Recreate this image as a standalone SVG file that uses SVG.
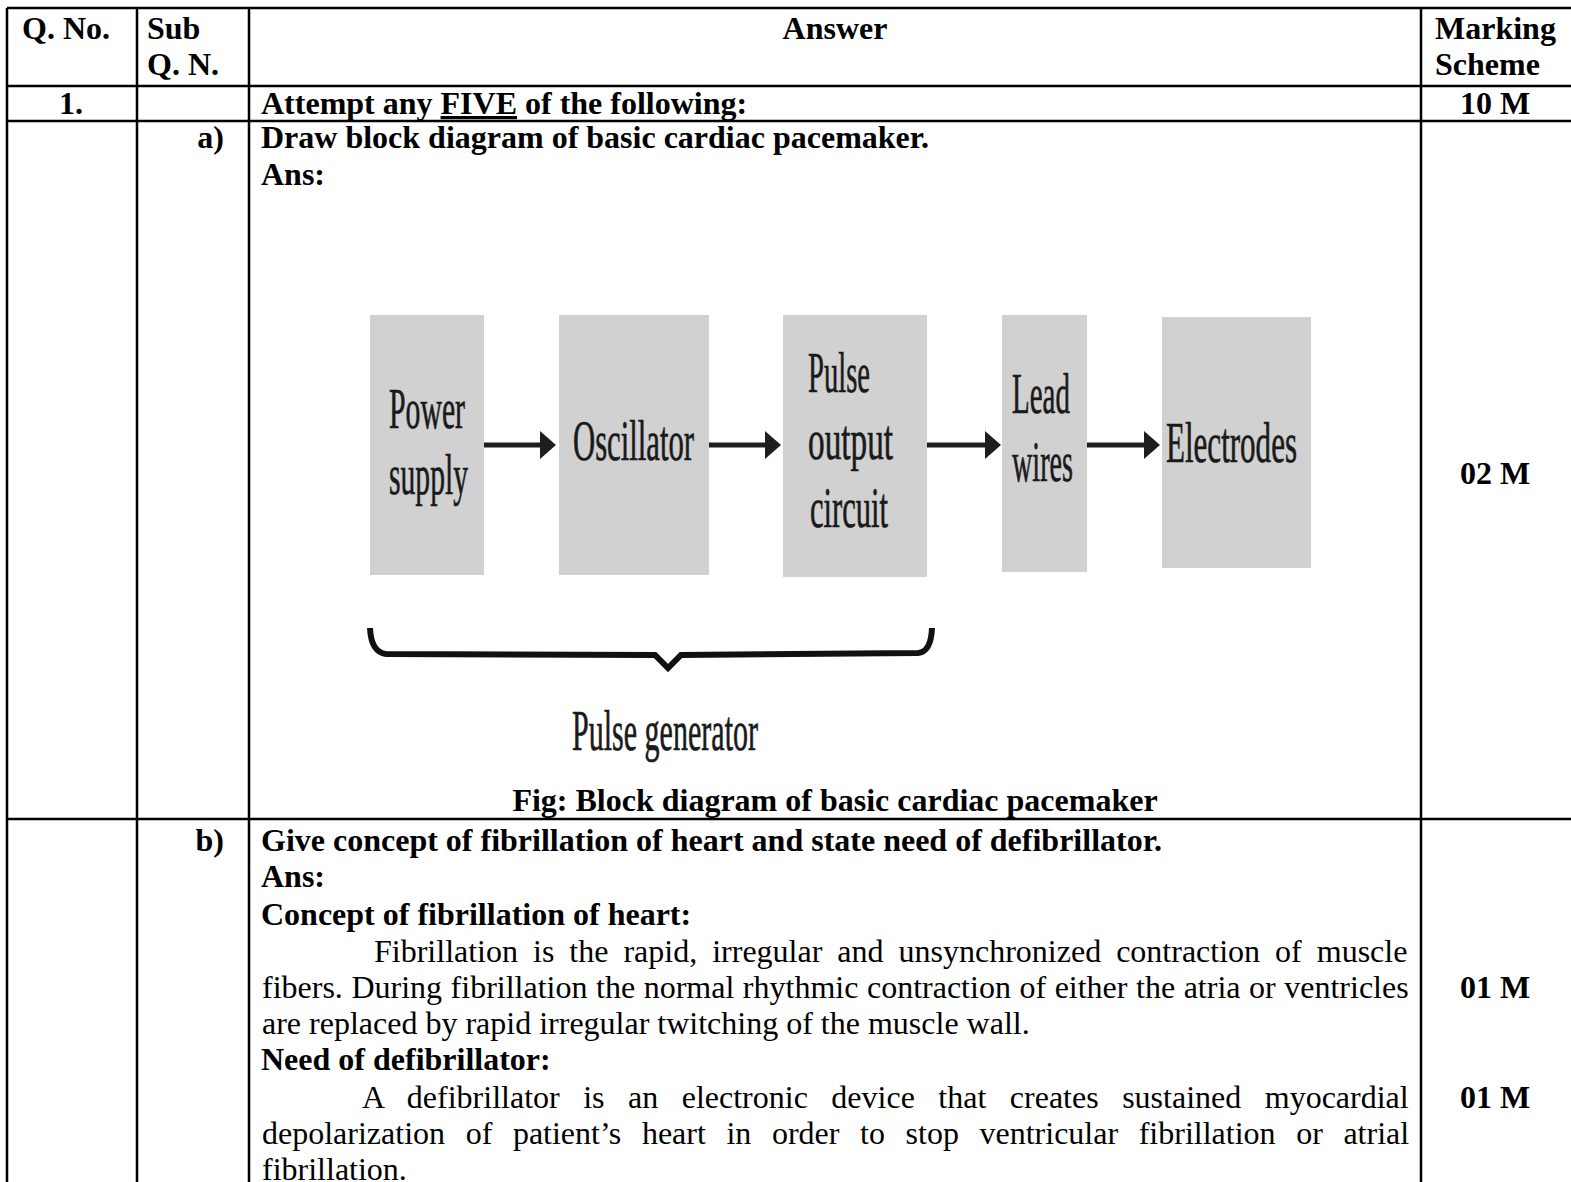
<svg xmlns="http://www.w3.org/2000/svg" width="1571" height="1182" viewBox="0 0 1571 1182">
<style>
.t{font-family:"Liberation Serif","Times New Roman",serif;font-size:32px;fill:#000}
.b{font-weight:bold}
.m{text-anchor:middle}
.e{text-anchor:end}
.grid line{stroke:#000;stroke-width:2.5}
.box{fill:#d1d1d1}
.bl{font-family:"Liberation Serif","Times New Roman",serif;font-size:58px;fill:#1a1a1a;stroke:#1a1a1a;stroke-width:0.7}
.arr{stroke:#1e1e1e;stroke-width:5;fill:none;marker-end:url(#ah)}
</style>
<defs>
<marker id="ah" markerWidth="16" markerHeight="28" refX="4" refY="14" orient="auto" markerUnits="userSpaceOnUse">
<path d="M0,0 L16,14 L0,28 Z" fill="#1e1e1e"/>
</marker>
</defs>
<rect width="1571" height="1182" fill="#fff"/>
<g id="table" class="grid">
<line x1="7" y1="8" x2="1571" y2="8"/>
<line x1="7" y1="86" x2="1571" y2="86"/>
<line x1="7" y1="121" x2="1571" y2="121"/>
<line x1="7" y1="819" x2="1571" y2="819"/>
<line x1="7" y1="8" x2="7" y2="1182"/>
<line x1="137" y1="8" x2="137" y2="1182"/>
<line x1="249" y1="8" x2="249" y2="1182"/>
<line x1="1421" y1="8" x2="1421" y2="1182"/>
</g>
<g id="header">
<text class="t b" x="22" y="39">Q. No.</text>
<text class="t b" x="147" y="39">Sub</text>
<text class="t b" x="147" y="75">Q. N.</text>
<text class="t b m" x="835" y="39">Answer</text>
<text class="t b" x="1435" y="39">Marking</text>
<text class="t b" x="1435" y="75">Scheme</text>
</g>
<g id="row1">
<text class="t b m" x="71" y="114">1.</text>
<text class="t b" x="261" y="114">Attempt any <tspan text-decoration="underline">FIVE</tspan> of the following:</text>
<text class="t b m" x="1495" y="114">10 M</text>
</g>
<g id="row-a">
<text class="t b e" x="224" y="148">a)</text>
<text class="t b" x="261" y="148">Draw block diagram of basic cardiac pacemaker.</text>
<text class="t b" x="261" y="185">Ans:</text>
<text class="t b m" x="1495" y="484">02 M</text>
<text class="t b m" x="835" y="811">Fig: Block diagram of basic cardiac pacemaker</text>
</g>
<g id="node-power">
<rect class="box" x="370" y="315" width="114" height="260"/>
<text class="bl" x="389" y="428" textLength="76" lengthAdjust="spacingAndGlyphs">Power</text>
<text class="bl" x="389" y="494" textLength="79" lengthAdjust="spacingAndGlyphs">supply</text>
</g>
<g id="node-oscillator">
<rect class="box" x="559" y="315" width="150" height="260"/>
<text class="bl" x="573" y="460" textLength="121" lengthAdjust="spacingAndGlyphs">Oscillator</text>
</g>
<g id="node-pulse">
<rect class="box" x="783" y="315" width="144" height="262"/>
<text class="bl" x="808" y="392" textLength="62" lengthAdjust="spacingAndGlyphs">Pulse</text>
<text class="bl" x="808" y="459" textLength="85" lengthAdjust="spacingAndGlyphs">output</text>
<text class="bl" x="810" y="527" textLength="78" lengthAdjust="spacingAndGlyphs">circuit</text>
</g>
<g id="node-lead">
<rect class="box" x="1002" y="315" width="85" height="257"/>
<text class="bl" x="1012" y="413" textLength="58" lengthAdjust="spacingAndGlyphs">Lead</text>
<text class="bl" x="1012" y="481" textLength="61" lengthAdjust="spacingAndGlyphs">wires</text>
</g>
<g id="node-electrodes">
<rect class="box" x="1162" y="317" width="149" height="251"/>
<text class="bl" x="1166" y="462" textLength="131" lengthAdjust="spacingAndGlyphs">Electrodes</text>
</g>
<g id="connectors">
<line class="arr" x1="484" y1="445" x2="544" y2="445"/>
<line class="arr" x1="709" y1="445" x2="769" y2="445"/>
<line class="arr" x1="927" y1="445" x2="989" y2="445"/>
<line class="arr" x1="1087" y1="445" x2="1148" y2="445"/>
</g>
<g id="brace">
<path d="M370,628 Q371,652 386,654 L655,655 L668,668 L681,655 L918,653 Q931,652 932,628" fill="none" stroke="#111" stroke-width="6"/>
<text class="bl" x="572" y="750" font-size="50" textLength="186" lengthAdjust="spacingAndGlyphs">Pulse generator</text>
</g>
<g id="row-b">
<text class="t b e" x="224" y="851">b)</text>
<text class="t b" x="261" y="851">Give concept of fibrillation of heart and state need of defibrillator.</text>
<text class="t b" x="261" y="887">Ans:</text>
<text class="t b" x="261" y="925">Concept of fibrillation of heart:</text>
<text class="t" x="374" y="962" word-spacing="7.0">Fibrillation is the rapid, irregular and unsynchronized contraction of muscle</text>
<text class="t" x="262" y="998" word-spacing="0.55">fibers. During fibrillation the normal rhythmic contraction of either the atria or ventricles</text>
<text class="t" x="262" y="1034">are replaced by rapid irregular twitching of the muscle wall.</text>
<text class="t b" x="261" y="1070">Need of defibrillator:</text>
<text class="t" x="362" y="1108" word-spacing="15.5">A defibrillator is an electronic device that creates sustained myocardial</text>
<text class="t" x="262" y="1144" word-spacing="12.6">depolarization of patient’s heart in order to stop ventricular fibrillation or atrial</text>
<text class="t" x="262" y="1180">fibrillation.</text>
<text class="t b m" x="1495" y="998">01 M</text>
<text class="t b m" x="1495" y="1108">01 M</text>
</g>
</svg>
